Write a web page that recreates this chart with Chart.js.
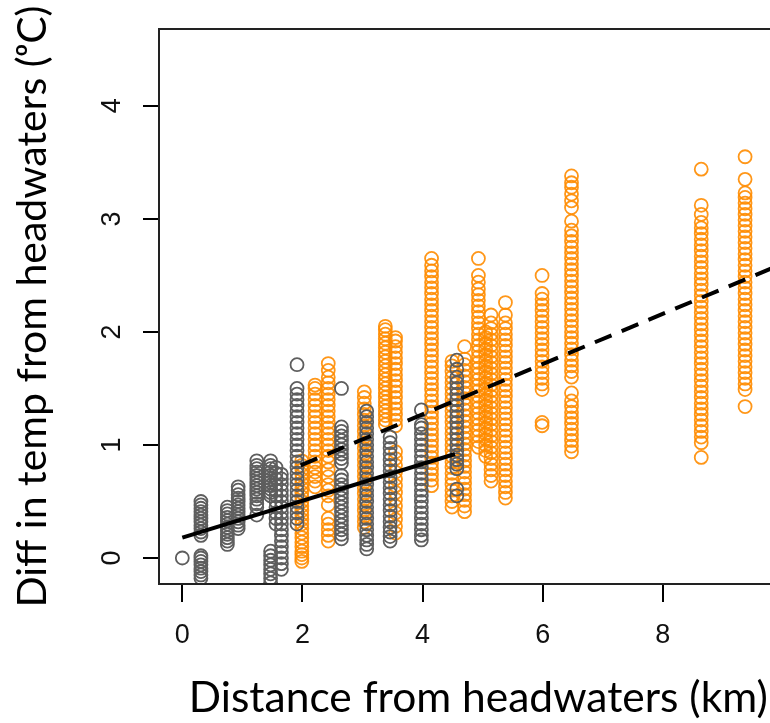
<!DOCTYPE html>
<html>
<head>
<meta charset="utf-8">
<script src="https://cdn.jsdelivr.net/npm/chart.js@4.4.1/dist/chart.umd.min.js"></script>
<style>
    html, body { margin: 0; padding: 0; background: #fff; overflow: hidden; }
    #wrap { width: 806px; height: 723px; }
</style>
</head>
<body>
<div id="wrap"><canvas id="chart" width="806" height="723"></canvas></div>
<script>
// Sites (km from headwaters) and temperature differences
const greyDist = [0, 0.31, 0.75, 0.93, 1.24, 1.47, 1.56, 1.65, 1.91, 2.65, 3.07, 3.46, 3.98, 4.57];
const greyTemp = [
    [0.00],
    [-0.18, -0.15, -0.12, -0.09, -0.06, -0.03, 0.00, 0.02, 0.20, 0.23, 0.26, 0.29, 0.32, 0.35, 0.38, 0.41, 0.44, 0.47, 0.50],
    [0.12, 0.15, 0.18, 0.21, 0.24, 0.27, 0.30, 0.33, 0.36, 0.39, 0.42, 0.45],
    [0.26, 0.29, 0.32, 0.35, 0.38, 0.41, 0.44, 0.47, 0.50, 0.53, 0.56, 0.60, 0.63],
    [0.38, 0.45, 0.48, 0.52, 0.55, 0.58, 0.61, 0.64, 0.67, 0.70, 0.73, 0.76, 0.79, 0.82, 0.86],
    [-0.22, -0.18, -0.14, -0.10, -0.06, -0.02, 0.02, 0.06, 0.55, 0.58, 0.61, 0.64, 0.67, 0.70, 0.73, 0.76, 0.79, 0.82, 0.86],
    [0.30, 0.35, 0.40, 0.45, 0.50, 0.55, 0.60, 0.65, 0.70, 0.75, 0.80],
    [-0.10, -0.05, 0.00, 0.05, 0.10, 0.15, 0.20, 0.25, 0.30, 0.35, 0.40, 0.45, 0.50, 0.55, 0.60, 0.65, 0.70, 0.74],
    [0.30, 0.35, 0.40, 0.45, 0.50, 0.55, 0.60, 0.65, 0.70, 0.75, 0.80, 0.85, 0.90, 0.95, 1.00, 1.05, 1.10, 1.15, 1.20, 1.25, 1.30, 1.35, 1.40, 1.45, 1.50, 1.71],
    [0.17, 0.21, 0.25, 0.29, 0.33, 0.37, 0.41, 0.45, 0.49, 0.53, 0.57, 0.61, 0.65, 0.69, 0.73, 0.84, 0.88, 0.92, 0.96, 1.00, 1.04, 1.08, 1.12, 1.16, 1.50],
    [0.08, 0.12, 0.16, 0.20, 0.25, 0.30, 0.35, 0.40, 0.45, 0.50, 0.55, 0.60, 0.65, 0.70, 0.75, 0.80, 0.85, 0.90, 0.95, 1.00, 1.05, 1.10, 1.15, 1.20, 1.25, 1.30],
    [0.15, 0.19, 0.23, 0.27, 0.32, 0.37, 0.42, 0.47, 0.52, 0.57, 0.62, 0.67, 0.72, 0.77, 0.82, 0.87, 0.92, 0.97, 1.02, 1.07],
    [0.16, 0.20, 0.25, 0.30, 0.35, 0.40, 0.45, 0.50, 0.55, 0.60, 0.65, 0.70, 0.75, 0.80, 0.85, 0.90, 0.95, 1.00, 1.05, 1.10, 1.15, 1.18, 1.31],
    [0.55, 0.61, 0.79, 0.83, 0.87, 0.91, 0.95, 1.00, 1.05, 1.10, 1.15, 1.20, 1.25, 1.30, 1.35, 1.40, 1.45, 1.50, 1.55, 1.60, 1.67, 1.75]
];

const orangeDist = [1.99, 2.21, 2.43, 3.03, 3.38, 3.55, 4.15, 4.49, 4.70, 4.93, 5.05, 5.14, 5.38, 5.99, 6.48, 8.64, 9.37];
const orangeTemp = [
    [-0.03, 0.00, 0.03, 0.06, 0.10, 0.14, 0.18, 0.22, 0.26, 0.30, 0.34, 0.38, 0.42, 0.46, 0.50, 0.54, 0.58, 0.62, 0.66, 0.70, 0.74, 0.78, 0.82, 0.86],
    [0.63, 0.68, 0.72, 0.76, 0.80, 0.85, 0.90, 0.95, 1.00, 1.05, 1.10, 1.15, 1.20, 1.25, 1.30, 1.35, 1.40, 1.45, 1.50, 1.53],
    [0.15, 0.20, 0.25, 0.30, 0.35, 0.47, 0.55, 0.60, 0.65, 0.72, 0.78, 0.85, 0.90, 0.95, 1.00, 1.05, 1.10, 1.15, 1.20, 1.25, 1.30, 1.35, 1.40, 1.45, 1.50, 1.55, 1.60, 1.66, 1.72],
    [0.27, 0.32, 0.37, 0.42, 0.47, 0.52, 0.57, 0.62, 0.67, 0.72, 0.77, 0.82, 0.87, 0.92, 0.97, 1.02, 1.07, 1.12, 1.17, 1.22, 1.27, 1.32, 1.37, 1.42, 1.47],
    [1.18, 1.22, 1.26, 1.30, 1.34, 1.38, 1.42, 1.46, 1.50, 1.54, 1.58, 1.62, 1.66, 1.70, 1.74, 1.78, 1.82, 1.86, 1.90, 1.94, 1.98, 2.02, 2.05],
    [0.22, 0.28, 0.34, 0.40, 0.46, 0.52, 0.58, 0.64, 0.70, 0.76, 0.82, 0.88, 0.94, 1.17, 1.22, 1.27, 1.32, 1.37, 1.42, 1.47, 1.52, 1.57, 1.62, 1.67, 1.72, 1.77, 1.82, 1.87, 1.92, 1.95],
    [0.64, 0.69, 0.74, 0.79, 0.84, 0.89, 0.94, 0.99, 1.04, 1.09, 1.14, 1.19, 1.24, 1.29, 1.34, 1.39, 1.44, 1.49, 1.54, 1.59, 1.64, 1.69, 1.74, 1.79, 1.84, 1.89, 1.94, 1.99, 2.04, 2.09, 2.14, 2.19, 2.24, 2.29, 2.34, 2.39, 2.44, 2.49, 2.54, 2.59, 2.65],
    [0.45, 0.50, 0.55, 0.60, 0.65, 0.70, 0.75, 0.80, 0.85, 0.90, 0.95, 1.00, 1.05, 1.10, 1.15, 1.20, 1.25, 1.30, 1.35, 1.40, 1.45, 1.50, 1.55, 1.60, 1.65, 1.70, 1.74],
    [0.41, 0.46, 0.51, 0.56, 0.61, 0.66, 0.71, 0.76, 0.81, 0.86, 0.91, 0.96, 1.01, 1.06, 1.11, 1.16, 1.21, 1.26, 1.31, 1.36, 1.41, 1.46, 1.51, 1.56, 1.61, 1.66, 1.71, 1.76, 1.87],
    [0.98, 1.03, 1.08, 1.13, 1.18, 1.23, 1.28, 1.33, 1.38, 1.43, 1.48, 1.53, 1.58, 1.63, 1.68, 1.73, 1.78, 1.83, 1.88, 1.93, 1.98, 2.03, 2.08, 2.13, 2.18, 2.23, 2.28, 2.33, 2.38, 2.44, 2.50, 2.65],
    [0.90, 0.95, 1.00, 1.05, 1.10, 1.15, 1.20, 1.25, 1.30, 1.35, 1.40, 1.45, 1.50, 1.55, 1.60, 1.65, 1.70, 1.75, 1.80, 1.85, 1.90, 1.95, 2.00],
    [0.68, 0.73, 0.78, 0.83, 0.88, 0.93, 0.98, 1.03, 1.08, 1.13, 1.18, 1.23, 1.28, 1.33, 1.38, 1.43, 1.48, 1.53, 1.58, 1.63, 1.68, 1.73, 1.78, 1.83, 1.88, 1.93, 1.98, 2.03, 2.08, 2.15],
    [0.53, 0.58, 0.63, 0.68, 0.73, 0.78, 0.83, 0.88, 0.93, 0.98, 1.03, 1.08, 1.13, 1.18, 1.23, 1.28, 1.33, 1.38, 1.43, 1.48, 1.53, 1.58, 1.63, 1.68, 1.73, 1.78, 1.83, 1.88, 1.93, 1.98, 2.03, 2.08, 2.15, 2.26],
    [1.17, 1.20, 1.49, 1.54, 1.59, 1.64, 1.69, 1.74, 1.79, 1.84, 1.89, 1.94, 1.99, 2.04, 2.09, 2.14, 2.19, 2.24, 2.29, 2.34, 2.50],
    [0.94, 0.99, 1.04, 1.09, 1.14, 1.19, 1.24, 1.29, 1.34, 1.39, 1.46, 1.60, 1.65, 1.70, 1.75, 1.80, 1.85, 1.90, 1.95, 2.00, 2.05, 2.10, 2.15, 2.20, 2.25, 2.30, 2.35, 2.40, 2.45, 2.50, 2.55, 2.60, 2.65, 2.70, 2.75, 2.80, 2.85, 2.90, 2.98, 3.10, 3.16, 3.22, 3.28, 3.32, 3.38],
    [0.89, 1.02, 1.07, 1.12, 1.17, 1.22, 1.27, 1.32, 1.37, 1.42, 1.47, 1.52, 1.57, 1.62, 1.67, 1.72, 1.77, 1.82, 1.87, 1.92, 1.97, 2.02, 2.07, 2.12, 2.17, 2.22, 2.27, 2.32, 2.37, 2.42, 2.47, 2.52, 2.57, 2.62, 2.67, 2.72, 2.77, 2.82, 2.87, 2.92, 2.97, 3.04, 3.12, 3.44],
    [1.34, 1.49, 1.54, 1.59, 1.64, 1.69, 1.74, 1.79, 1.84, 1.89, 1.94, 1.99, 2.04, 2.09, 2.14, 2.19, 2.24, 2.29, 2.34, 2.39, 2.44, 2.49, 2.54, 2.59, 2.64, 2.69, 2.74, 2.79, 2.84, 2.89, 2.94, 2.99, 3.04, 3.09, 3.14, 3.19, 3.23, 3.35, 3.55]
];

// Fitted lines (end points)
const greyFitX = [0, 4.54];
const greyFitY = [0.18, 0.92];
const orangeFitX = [1.97, 10.7];
const orangeFitY = [0.82, 2.76];

const xTicks = [0, 2, 4, 6, 8];
const yTicks = [0, 1, 2, 3, 4];

function toPoints(dists, temps) {
    const pts = [];
    dists.forEach((d, i) => {
        temps[i].forEach(t => pts.push({ x: d, y: t }));
    });
    return pts;
}

const boxPlugin = {
    id: 'box',
    afterDraw(chart) {
        const { ctx, chartArea: a } = chart;
        ctx.save();
        ctx.strokeStyle = '#222';
        ctx.lineWidth = 2;
        ctx.strokeRect(a.left, a.top, a.right - a.left, a.bottom - a.top);
        ctx.restore();
    }
};

const tickFont = { family: '"Liberation Sans", Arial, sans-serif', size: 27 };
const xTitleFont = { family: 'Lato, "Open Sans", sans-serif', size: 42.5, lineHeight: 1 };
const yTitleFont = { family: 'Lato, "Open Sans", sans-serif', size: 41, lineHeight: 1 };

new Chart(document.getElementById('chart'), {
    type: 'scatter',
    data: {
        datasets: [
            {
                type: 'line',
                data: greyFitX.map((x, i) => ({ x, y: greyFitY[i] })),
                borderColor: '#000',
                borderWidth: 4,
                pointRadius: 0,
                fill: false,
                order: 0
            },
            {
                type: 'line',
                data: orangeFitX.map((x, i) => ({ x, y: orangeFitY[i] })),
                borderColor: '#000',
                borderWidth: 4,
                borderDash: [18, 11],
                pointRadius: 0,
                fill: false,
                order: 0
            },
            {
                data: toPoints(greyDist, greyTemp),
                pointStyle: 'circle',
                pointRadius: 6.5,
                borderWidth: 1.8,
                borderColor: '#5e5e5e',
                backgroundColor: 'rgba(0,0,0,0)',
                order: 1
            },
            {
                data: toPoints(orangeDist, orangeTemp),
                pointStyle: 'circle',
                pointRadius: 6.5,
                borderWidth: 1.8,
                borderColor: 'rgba(255,140,0,0.9)',
                backgroundColor: 'rgba(0,0,0,0)',
                order: 2
            }
        ]
    },
    options: {
        responsive: false,
        animation: false,
        events: [],
        layout: { padding: { top: 29, right: 3, left: 0, bottom: 0 } },
        plugins: {
            legend: { display: false },
            tooltip: { enabled: false }
        },
        scales: {
            x: {
                type: 'linear',
                min: -0.388,
                max: 10.246,
                afterBuildTicks: s => { s.ticks = xTicks.map(v => ({ value: v })); },
                afterFit: s => { s.height = 139; s.paddingLeft = 0; s.paddingRight = 0; },
                border: { display: false },
                grid: { drawOnChartArea: false, drawTicks: true, tickLength: 18, color: '#000', lineWidth: 2 },
                ticks: { color: '#111', font: tickFont, padding: 17, maxRotation: 0 },
                title: {
                    display: true,
                    text: 'Distance from headwaters (km)',
                    color: '#000',
                    font: xTitleFont,
                    padding: { top: 0, bottom: 3 }
                }
            },
            y: {
                type: 'linear',
                min: -0.23,
                max: 4.68,
                afterBuildTicks: s => { s.ticks = yTicks.map(v => ({ value: v })); },
                afterFit: s => { s.width = 159; s.paddingTop = 0; s.paddingBottom = 0; },
                border: { display: false },
                grid: { drawOnChartArea: false, drawTicks: true, tickLength: 16, color: '#000', lineWidth: 2 },
                ticks: { color: '#111', font: tickFont, padding: 23, minRotation: 90, maxRotation: 90, crossAlign: 'center' },
                title: {
                    display: true,
                    text: 'Diff in temp from headwaters (ᵒC)',
                    color: '#000',
                    font: yTitleFont,
                    padding: { top: 12, bottom: 0 }
                }
            }
        }
    },
    plugins: [boxPlugin]
});
</script>
</body>
</html>
